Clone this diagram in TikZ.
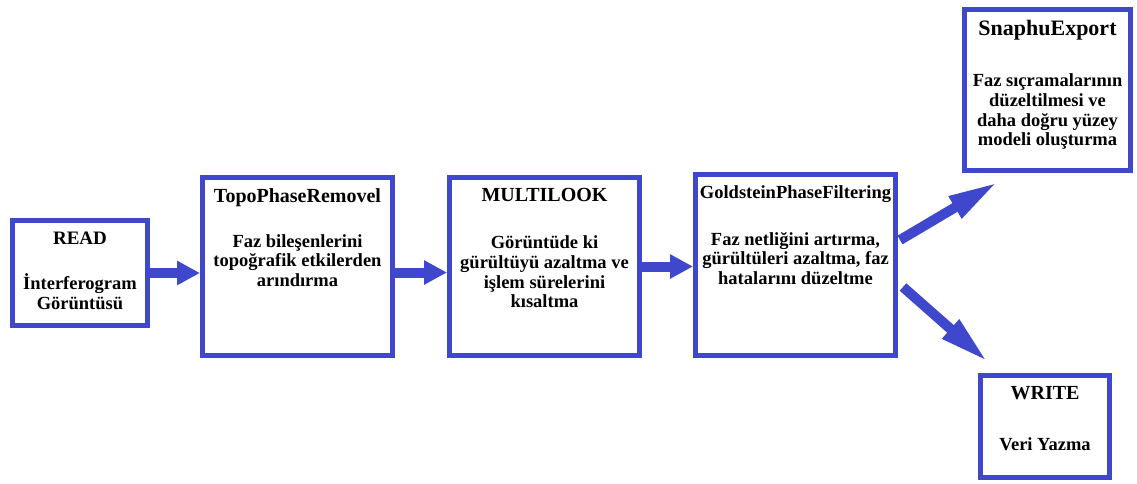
\documentclass[tikz,border=0pt]{standalone}
\usepackage{fontspec}
\setmainfont{Liberation Serif}
\usetikzlibrary{arrows.meta, positioning}
\definecolor{flowblue}{RGB}{63,72,204}
\newcommand{\boxtxt}[3]{\parbox[c][#2][t]{#1}{\centering\vspace*{11pt}#3}}
\newcommand{\ttl}[2]{{\fontsize{#1}{19.8}\selectfont #2}}

\begin{document}
\begin{tikzpicture}[
  node distance = 50pt,
  box/.style = {
    rectangle, draw=flowblue, line width=5pt, fill=white, inner sep=0pt,
    font=\fontsize{18.5}{19.8}\selectfont\bfseries
  },
  arr/.style = {-{Triangle[length=23pt, width=23pt]}, line width=10pt, draw=flowblue},
  longarr/.style = {arr, -{Triangle[length=50pt, width=23pt]}}
]
\useasboundingbox (0,0) rectangle (1137pt,-483pt);
\node[box] (read) at (80pt,-273pt)
  {\boxtxt{135pt}{105pt}{\ttl{19}{READ}\\[26pt]İnterferogram\\Görüntüsü}};
\node[box, right=50pt of read, yshift=6.5pt] (topo)
  {\boxtxt{190pt}{178pt}{\ttl{20}{TopoPhaseRemovel}\\[25pt]Faz bileşenlerini\\topoğrafik etkilerden\\arındırma}};
\node[box, right=52pt of topo] (multi)
  {\boxtxt{190pt}{178pt}{\ttl{20}{MULTILOOK}\\[27pt]Görüntüde ki\\gürültüyü azaltma ve\\işlem sürelerini\\kısaltma}};
\node[box, right=51pt of multi, yshift=1.5pt] (gold)
  {\boxtxt{200pt}{181pt}{\ttl{18.5}{GoldsteinPhaseFiltering}\\[27pt]Faz netliğini artırma,\\gürültüleri azaltma, faz\\hatalarını düzeltme}};
\node[box, above right=-1pt and 64pt of gold] (snaphu)
  {\boxtxt{166pt}{161pt}{\ttl{22}{SnaphuExport}\\[31pt]Faz sıçramalarının\\düzeltilmesi ve\\daha doğru yüzey\\modeli oluşturma}};
\node[box, below right=15pt and 80pt of gold] (write)
  {\boxtxt{129pt}{102pt}{\ttl{20}{WRITE}\\[31pt]Veri Yazma}};
\draw[arr] (read) -- (read -| topo.west);
\draw[arr] ([yshift=-6pt]topo.east) -- ([yshift=-6pt]topo.east -| multi.west);
\draw[arr] (multi) -- (multi -| gold.west);
\draw[longarr] ([xshift=2pt, yshift=25pt]gold.east) -- ([xshift=36pt, yshift=-9pt]snaphu.south west);
\draw[longarr] ([xshift=5pt, yshift=-22pt]gold.east) -- ([xshift=10pt, yshift=11pt]write.north west);
\end{tikzpicture}
\end{document}
